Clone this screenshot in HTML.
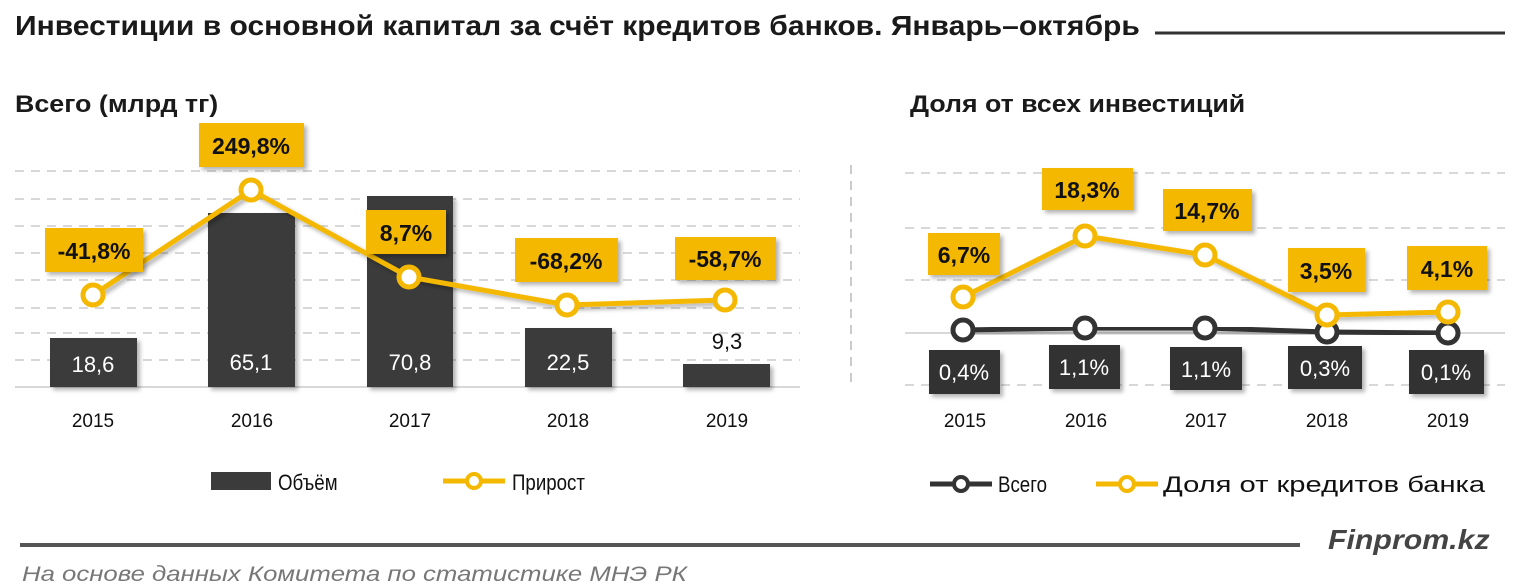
<!DOCTYPE html>
<html><head><meta charset="utf-8"><style>
html,body{margin:0;padding:0;background:#fff;}
svg{display:block;font-family:"Liberation Sans","DejaVu Sans",sans-serif;}
</style></head><body>
<svg width="1515" height="588" viewBox="0 0 1515 588" xmlns="http://www.w3.org/2000/svg">
<defs><filter id="sh" x="-20%" y="-20%" width="150%" height="160%"><feDropShadow dx="3" dy="3" stdDeviation="2" flood-color="#000" flood-opacity="0.3"/></filter></defs>
<!-- title -->
<text transform="translate(15,35) scale(0.8,1)" font-size="28" font-weight="bold" fill="#1a1a1a" textLength="1406" lengthAdjust="spacingAndGlyphs">Инвестиции в основной капитал за счёт кредитов банков. Январь–октябрь</text>
<line x1="1155" y1="33" x2="1505" y2="33" stroke="#333" stroke-width="3"/>
<text transform="translate(15,112) scale(0.8,1)" font-size="24" font-weight="bold" fill="#1a1a1a" textLength="254" lengthAdjust="spacingAndGlyphs">Всего (млрд тг)</text>
<text transform="translate(910,112) scale(0.8,1)" font-size="24" font-weight="bold" fill="#1a1a1a" textLength="419" lengthAdjust="spacingAndGlyphs">Доля от всех инвестиций</text>

<!-- left grid -->
<g stroke="#ccc" stroke-width="1.5" stroke-dasharray="9,7">
<line x1="15" y1="171" x2="800" y2="171"/><line x1="15" y1="199" x2="800" y2="199"/>
<line x1="15" y1="226" x2="800" y2="226"/><line x1="15" y1="253" x2="800" y2="253"/>
<line x1="15" y1="280" x2="800" y2="280"/><line x1="15" y1="308" x2="800" y2="308"/>
<line x1="15" y1="333" x2="800" y2="333"/><line x1="15" y1="360" x2="800" y2="360"/>
</g>
<line x1="15" y1="387" x2="800" y2="387" stroke="#ccc" stroke-width="1.5"/>
<line x1="851" y1="165" x2="851" y2="385" stroke="#bbb" stroke-width="1.5" stroke-dasharray="9,7"/>
<!-- bars -->
<g fill="#3b3b3b" filter="url(#sh)">
<rect x="50" y="338" width="87" height="49"/><rect x="208" y="213" width="87" height="174"/>
<rect x="367" y="196" width="86" height="191"/><rect x="525" y="328" width="87" height="59"/>
<rect x="683" y="364" width="87" height="23"/>
</g>
<g font-size="22" fill="#fff" text-anchor="middle">
<text x="93" y="372">18,6</text><text x="251" y="370">65,1</text><text x="410" y="370">70,8</text><text x="568" y="370">22,5</text>
</g>
<text x="727" y="349" font-size="22" fill="#111" text-anchor="middle">9,3</text>
<!-- left line -->
<polyline points="93,295 251,190 409,277 567,305 725,300" fill="none" stroke="#f5b800" stroke-width="5" filter="url(#sh)"/>
<g fill="#fff" stroke="#f5b800" stroke-width="5">
<circle cx="93" cy="295" r="10"/><circle cx="251" cy="190" r="10"/><circle cx="409" cy="277" r="10"/><circle cx="567" cy="305" r="10"/><circle cx="725" cy="300" r="10"/>
</g>
<g fill="#f5b800" filter="url(#sh)">
<rect x="45" y="228" width="98" height="44"/><rect x="199" y="123" width="105" height="44"/>
<rect x="366" y="210" width="80" height="44"/><rect x="515" y="238" width="103" height="44"/>
<rect x="675" y="237" width="101" height="43"/>
</g>
<g font-size="23" font-weight="bold" fill="#111" text-anchor="middle">
<text x="94" y="259">-41,8%</text><text x="251" y="154">249,8%</text><text x="406" y="241">8,7%</text><text x="566" y="269">-68,2%</text><text x="725" y="267">-58,7%</text>
</g>
<g font-size="19" fill="#111" text-anchor="middle">
<text x="93" y="427">2015</text><text x="252" y="427">2016</text><text x="410" y="427">2017</text><text x="568" y="427">2018</text><text x="727" y="427">2019</text>
</g>

<!-- right grid -->
<g stroke="#ccc" stroke-width="1.5" stroke-dasharray="9,7">
<line x1="905" y1="173" x2="1505" y2="173"/><line x1="905" y1="228" x2="1505" y2="228"/>
<line x1="905" y1="280" x2="1505" y2="280"/><line x1="905" y1="385" x2="1505" y2="385"/>
</g>
<line x1="905" y1="333" x2="1505" y2="333" stroke="#ccc" stroke-width="1.5"/>
<polyline points="963,330 1085,328 1205,328 1327,332 1448,333" fill="none" stroke="#333" stroke-width="5" filter="url(#sh)"/>
<g fill="#fff" stroke="#333" stroke-width="5">
<circle cx="963" cy="330" r="10"/><circle cx="1085" cy="328" r="10"/><circle cx="1205" cy="328" r="10"/><circle cx="1327" cy="332" r="10"/><circle cx="1448" cy="333" r="10"/>
</g>
<polyline points="963,297 1085,236 1205,255 1327,315 1448,312" fill="none" stroke="#f5b800" stroke-width="5" filter="url(#sh)"/>
<g fill="#fff" stroke="#f5b800" stroke-width="5">
<circle cx="963" cy="297" r="10"/><circle cx="1085" cy="236" r="10"/><circle cx="1205" cy="255" r="10"/><circle cx="1327" cy="315" r="10"/><circle cx="1448" cy="312" r="10"/>
</g>
<g fill="#f5b800" filter="url(#sh)">
<rect x="928" y="233" width="72" height="42"/><rect x="1042" y="168" width="91" height="42"/>
<rect x="1163" y="189" width="89" height="42"/><rect x="1288" y="248" width="77" height="44"/>
<rect x="1407" y="246" width="80" height="44"/>
</g>
<g font-size="23" font-weight="bold" fill="#111" text-anchor="middle">
<text x="964" y="263">6,7%</text><text x="1087" y="198">18,3%</text><text x="1207" y="219">14,7%</text><text x="1326" y="279">3,5%</text><text x="1447" y="277">4,1%</text>
</g>
<g fill="#333" filter="url(#sh)">
<rect x="929" y="350" width="71" height="44"/><rect x="1049" y="345" width="71" height="44"/>
<rect x="1170" y="347" width="72" height="43"/><rect x="1288" y="346" width="74" height="43"/>
<rect x="1409" y="350" width="75" height="44"/>
</g>
<g font-size="22" fill="#fff" text-anchor="middle">
<text x="964" y="380">0,4%</text><text x="1084" y="375">1,1%</text><text x="1206" y="377">1,1%</text><text x="1325" y="376">0,3%</text><text x="1446" y="380">0,1%</text>
</g>
<g font-size="19" fill="#111" text-anchor="middle">
<text x="965" y="427">2015</text><text x="1086" y="427">2016</text><text x="1206" y="427">2017</text><text x="1327" y="427">2018</text><text x="1448" y="427">2019</text>
</g>

<!-- legends -->
<rect x="211" y="472" width="60" height="18" fill="#3b3b3b"/>
<text transform="translate(278,490) scale(0.85,1)" font-size="22" fill="#111">Объём</text>
<line x1="443" y1="481" x2="505" y2="481" stroke="#f5b800" stroke-width="5"/>
<circle cx="474" cy="481" r="7" fill="#fff" stroke="#f5b800" stroke-width="4"/>
<text transform="translate(512,490) scale(0.85,1)" font-size="22" fill="#111">Прирост</text>
<line x1="930" y1="484" x2="992" y2="484" stroke="#333" stroke-width="5"/>
<circle cx="961" cy="484" r="7" fill="#fff" stroke="#333" stroke-width="4"/>
<text transform="translate(998,492) scale(0.85,1)" font-size="22" fill="#111">Всего</text>
<line x1="1096" y1="484" x2="1158" y2="484" stroke="#f5b800" stroke-width="5"/>
<circle cx="1127" cy="484" r="7" fill="#fff" stroke="#f5b800" stroke-width="4"/>
<text transform="translate(1163,492) scale(0.85,1)" font-size="22" fill="#111" textLength="379" lengthAdjust="spacingAndGlyphs">Доля от кредитов  банка</text>

<!-- footer -->
<line x1="20" y1="545" x2="1300" y2="545" stroke="#555" stroke-width="4"/>
<text transform="translate(1328,549) scale(0.8,1)" font-size="28" font-weight="bold" font-style="italic" fill="#444" textLength="202" lengthAdjust="spacingAndGlyphs">Finprom.kz</text>
<text transform="translate(22,581) scale(0.8,1)" font-size="21" font-style="italic" fill="#777" textLength="831" lengthAdjust="spacingAndGlyphs">На основе данных  Комитета по статистике МНЭ РК</text>
</svg>
</body></html>
